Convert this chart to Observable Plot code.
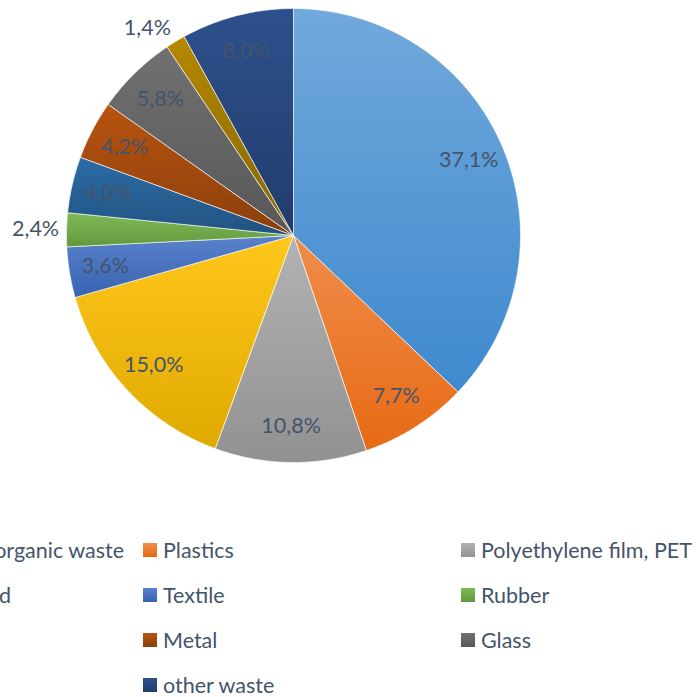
<!DOCTYPE html>
<html>
<head>
<meta charset="utf-8">
<script src="https://cdn.jsdelivr.net/npm/d3@7"></script>
<script src="https://cdn.jsdelivr.net/npm/@observablehq/plot@0.6"></script>
<style>
  body { margin: 0; background: #fff; }
  #wrap { position: relative; width: 699px; height: 697px; overflow: hidden; font-family: Lato, "Open Sans", sans-serif; }
  #chart { position: absolute; left: 0; top: 0; }
  #legend { position: absolute; left: -184px; top: 527px; display: grid; grid-template-columns: 327px 318px 318px; }
  .item { display: flex; align-items: center; height: 45px; color: #44546a; font-size: 21.5px; white-space: nowrap; }
  .sw { width: 14px; height: 14px; margin-right: 6px; flex: none; }
</style>
</head>
<body>
<div id="wrap">
  <div id="chart"></div>
  <div id="legend"></div>
</div>
<script>
// ---- data ----
const categories = [
  "Food scraps and organic waste", "Plastics", "Polyethylene film, PET",
  "Paper & cardboard", "Textile", "Rubber",
  "Wood", "Metal", "Glass",
  "Hazardous", "other waste"
];
const shares = [37.1, 7.7, 10.8, 15.0, 3.6, 2.4, 4.0, 4.2, 5.8, 1.4, 8.0];
const palette = [
  "#5b9bd5", "#ed7d31", "#a5a5a5", "#ffc000", "#4472c4", "#70ad47",
  "#255e91", "#9e480e", "#636363", "#997300", "#264478"
];

// ---- layout ----
const W = 699, H = 500, cx = 293, cy = 235, R = 227;
const labelColor = "#44546a";
const fontSize = 21.5;
const labelW = 50, labelH = 20; // approximate label box, px

const topColor = c => { const h = d3.hsl(c); h.l = Math.min(1, h.l + 0.055); return h.formatHex(); };
const botColor = c => { const h = d3.hsl(c); h.l = h.l * 0.88; return h.formatHex(); };

const rows = categories.map((name, i) => ({
  name, share: shares[i], color: palette[i], i,
  label: shares[i].toFixed(1).replace(".", ",") + "%",
  fillId: `url(#g${i})`
}));

const arcs = d3.pie().sort(null).value(d => d.share)(rows);

// slice outlines in unit coordinates (angle from top, clockwise)
const points = [];
for (const a of arcs) {
  const n = Math.max(2, Math.ceil((a.endAngle - a.startAngle) / 0.005));
  points.push({ name: a.data.name, fillId: a.data.fillId, x: 0, y: 0 });
  for (let k = 0; k <= n; k++) {
    const t = a.startAngle + (a.endAngle - a.startAngle) * k / n;
    points.push({ name: a.data.name, fillId: a.data.fillId, x: Math.sin(t), y: Math.cos(t) });
  }
  points.push({ name: a.data.name, fillId: a.data.fillId, x: 0, y: 0 });
}

// inside labels at a fixed fraction of the radius; small slices get an outside label
const labelPts = arcs.map(a => {
  const m = (a.startAngle + a.endAngle) / 2;
  const s = Math.sin(m), c = Math.cos(m);
  if (a.data.share >= 3) {
    const r = 0.84;
    return { label: a.data.label, x: r * s, y: r * c };
  }
  const r = (R + 6) / R;
  const dx = Math.sign(s) * labelW / 2 / R;
  const dy = c * labelH / 2 / R;
  return { label: a.data.label, x: r * s + dx, y: r * c + dy };
});

const svg = Plot.plot({
  width: W, height: H,
  margin: 0,
  style: { fontFamily: "Lato, 'Open Sans', sans-serif", background: "transparent", overflow: "visible" },
  x: { domain: [-1, 1], range: [cx - R, cx + R], axis: null },
  y: { domain: [-1, 1], range: [cy + R, cy - R], axis: null },
  color: { type: "identity" },
  marks: [
    Plot.line(points, { x: "x", y: "y", z: "name", fill: "fillId", stroke: "#ffffff", strokeWidth: 0.8, strokeOpacity: 0.8, strokeLinejoin: "round", curve: "linear" }),
    Plot.text(labelPts, { x: "x", y: "y", text: "label", fill: labelColor, fontSize, textAnchor: "middle", lineAnchor: "middle" })
  ]
});

const defs = d3.select(svg).insert("defs", ":first-child");
rows.forEach(r => {
  const g = defs.append("linearGradient").attr("id", `g${r.i}`)
    .attr("x1", 0).attr("y1", 0).attr("x2", 0).attr("y2", 1);
  g.append("stop").attr("offset", "0%").attr("stop-color", topColor(r.color));
  g.append("stop").attr("offset", "100%").attr("stop-color", botColor(r.color));
});

document.getElementById("chart").appendChild(svg);

const legend = document.getElementById("legend");
rows.forEach(r => {
  const it = document.createElement("div");
  it.className = "item";
  const sw = document.createElement("span");
  sw.className = "sw";
  sw.style.background = `linear-gradient(${topColor(r.color)}, ${botColor(r.color)})`;
  const tx = document.createElement("span");
  tx.textContent = r.name;
  it.appendChild(sw); it.appendChild(tx);
  legend.appendChild(it);
});
</script>
</body>
</html>
